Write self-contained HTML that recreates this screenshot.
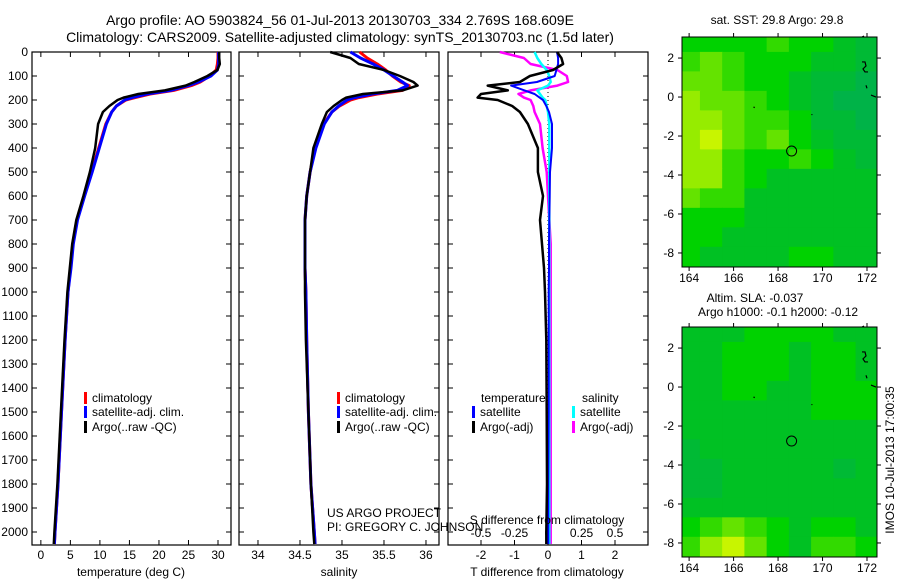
<!DOCTYPE html>
<html><head><meta charset="utf-8"><style>
body{margin:0;background:#fff;}
svg{display:block;font-family:"Liberation Sans",sans-serif;}
</style></head><body>
<svg id="fig" width="900" height="580" viewBox="0 0 900 580">
<text x="340" y="25" font-size="14" text-anchor="middle">Argo profile: AO 5903824_56 01-Jul-2013 20130703_334 2.769S 168.609E</text>
<text x="340" y="42" font-size="14" text-anchor="middle">Climatology: CARS2009. Satellite-adjusted climatology: synTS_20130703.nc (1.5d later)</text>
<text x="777" y="24" font-size="12" text-anchor="middle">sat. SST: 29.8  Argo: 29.8</text>
<text x="755" y="302" font-size="12" text-anchor="middle">Altim. SLA: -0.037</text>
<text x="778" y="316" font-size="12" text-anchor="middle">Argo h1000: -0.1 h2000: -0.12</text>
<text transform="translate(894,460) rotate(-90)" font-size="12" text-anchor="middle">IMOS 10-Jul-2013 17:00:35</text>
<text x="327" y="517" font-size="12">US ARGO PROJECT</text>
<text x="327" y="531" font-size="12">PI: GREGORY C. JOHNSON</text>
<g id="plots"></g>
</svg>
<script>
// ---- data ----
const depths = [0,25,50,75,100,125,140,160,175,190,200,225,250,300,400,500,600,700,800,900,1000,1200,1500,1800,2000,2050];
const tempClim = [30,30,29.9,29.7,28.6,27,25.5,22.5,18.5,16,14.4,12.8,12,11,9.8,8.6,7.3,6.1,5.4,5,4.6,4.1,3.5,2.9,2.4,2.3];
const tempSat = [30.1,30.1,30.1,29.9,28.8,26.7,25,22,18,15.5,14.2,12.8,12,11.1,9.9,8.7,7.4,6.2,5.5,5.1,4.6,4.1,3.5,2.9,2.4,2.3];
const tempArgo = [30.2,30.2,30.3,29.9,28.2,26,24.5,21,16.5,14,13,11.6,10.5,9.7,9.2,8.3,7.2,6.0,5.3,4.9,4.5,4.0,3.4,2.8,2.3,2.2];
const salClim = [35.21,35.3,35.42,35.52,35.6,35.7,35.8,35.72,35.42,35.2,35.1,34.97,34.88,34.78,34.68,34.62,34.58,34.56,34.56,34.56,34.57,34.58,34.6,34.63,34.67,34.68];
const salSat = [35.1,35.22,35.37,35.5,35.61,35.72,35.78,35.66,35.36,35.15,35.06,34.96,34.88,34.79,34.69,34.62,34.58,34.56,34.56,34.56,34.57,34.58,34.6,34.63,34.67,34.68];
const salArgo = [34.86,35.1,35.2,35.5,35.69,35.85,35.9,35.72,35.25,35.05,35.0,34.9,34.82,34.76,34.66,34.62,34.58,34.56,34.56,34.56,34.56,34.57,34.6,34.63,34.66,34.67];
const tDiffSat = [0.27,0.3,0.3,0.25,0.2,-0.33,-1.1,-0.7,-0.4,-0.25,-0.15,-0.05,0.03,0.12,0.12,0.06,0.05,0.04,0.03,0.03,0.02,0.02,0.02,0.01,0.01,0.01];
const tDiffArgo = [0.27,0.4,0.45,0.15,-0.54,-0.84,-1.8,-1.2,-2.0,-2.1,-1.5,-1.07,-0.84,-0.6,-0.3,-0.3,-0.15,-0.24,-0.18,-0.12,-0.09,-0.05,-0.04,-0.03,-0.05,-0.05];
const sDiffSat = [-0.1,-0.08,-0.05,-0.01,0.01,0.02,0.0,-0.08,-0.06,-0.04,-0.02,-0.01,0,0.01,0.01,0.01,0.01,0.01,0.01,0.01,0.01,0.01,0.01,0.01,0.01,0.01];
const sDiffArgo = [-0.36,-0.18,-0.13,0.07,0.14,0.15,0.07,-0.13,-0.22,-0.18,-0.13,-0.11,-0.1,-0.06,-0.04,-0.01,0.0,0.01,0.02,0.02,0.02,0.02,0.02,0.02,0.02,0.02];
const depthTicks = [0,100,200,300,400,500,600,700,800,900,1000,1100,1200,1300,1400,1500,1600,1700,1800,1900,2000];
const tempTicks = [0,5,10,15,20,25,30];
const salTicks = [34,34.5,35,35.5,36];
const tDiffTicks = [-2,-1,0,1,2];
const sDiffTicks = [-0.5,-0.25,0,0.25,0.5];
const sDiffTickLabels = ["-0.5","-0.25","0","0.25","0.5"];
const lonTicks = [164,166,168,170,172];
const latTicks = [2,0,-2,-4,-6,-8];
const sstGrid = [
[5,5,5,5,6,5,5,4,3,6],[6,7,6,5,5,5,4,4,3,2],[7,7,6,5,5,4,3,3,2,2],[8,7,7,6,5,4,3,2,2,2],
[8,8,7,6,6,5,3,3,2,2],[8,9,7,6,7,5,4,3,3,2],[8,8,6,5,5,6,5,4,3,3],[8,8,6,5,4,4,4,4,4,4],
[7,6,6,4,4,4,4,4,4,4],[5,5,5,4,4,4,4,4,4,4],[5,5,4,4,4,4,4,4,4,4],[5,4,4,4,4,5,5,4,4,4]];
const slaGrid = [
[4,4,4,5,5,5,5,4,4,4],[4,4,5,5,5,4,5,5,4,4],[4,4,5,5,5,4,5,5,4,4],[4,4,5,5,4,4,5,5,5,4],
[4,4,4,4,4,4,5,5,5,4],[4,4,4,4,4,4,4,4,4,4],[3,4,4,4,4,4,4,4,4,4],[3,3,4,4,4,4,4,3,4,4],
[3,3,4,4,4,4,4,4,4,4],[4,4,4,4,4,4,4,4,4,4],[5,6,7,6,5,4,5,5,4,4],[6,8,9,7,5,4,6,6,5,4]];
const floatLon = 168.609, floatLat = -2.769;

// ---- drawing ----
const NS="http://www.w3.org/2000/svg";
const root=document.getElementById('plots');
function mk(tag,attrs,parent){const e=document.createElementNS(NS,tag);for(const k in attrs)e.setAttribute(k,attrs[k]);(parent||root).appendChild(e);return e;}
const top0=52, pxPer100=24.0, bot=545;
const yD=d=>top0+d*pxPer100/100;

function panel(name,x0,x1,xmin,xmax,showDepth){
  const sx=v=>x0+(v-xmin)/(xmax-xmin)*(x1-x0);
  const g=mk('g',{});
  
  
  const r=mk('rect',{x:x0,y:top0,width:x1-x0,height:bot-top0,fill:'none',stroke:'#000','stroke-width':1.2},g);
  
  
  depthTicks.forEach(d=>{
    mk('line',{x1:x0,x2:x0+5,y1:yD(d),y2:yD(d),stroke:'#000'},g);
    mk('line',{x1:x1-5,x2:x1,y1:yD(d),y2:yD(d),stroke:'#000'},g);
    if(showDepth){const t=mk('text',{x:x0-4,y:yD(d)+4,'font-size':12,'text-anchor':'end'},g);t.textContent=d;
      
      }
  });
  return {g,sx};
}
function xTicks(p,ticks,labels,ylab){
  ticks.forEach((v,i)=>{
    const x=p.sx(v);
    mk('line',{x1:x,x2:x,y1:bot,y2:bot-5,stroke:'#000'},p.g);
    mk('line',{x1:x,x2:x,y1:top0,y2:top0+5,stroke:'#000'},p.g);
    const t=mk('text',{x:x,y:ylab,'font-size':12,'text-anchor':'middle'},p.g);t.textContent=labels?labels[i]:v;
    
    
  });
}
function line(p,vals,color,w,name,scale){
  const pts=vals.map((v,i)=>p.sx(v*(scale||1)).toFixed(1)+','+yD(depths[i]).toFixed(1)).join(' ');
  const pl=mk('polyline',{points:pts,fill:'none',stroke:color,'stroke-width':w,'stroke-linejoin':'round'},p.g);
  
  
}
function label(x,y,txt,name,anchor){const t=mk('text',{x:x,y:y,'font-size':12,'text-anchor':anchor||'start'});t.textContent=txt;
  
  }
function legend(x,y,color,txt,name){
  const r=mk('rect',{x:x,y:y-10,width:3,height:12,fill:color});
  
  
  label(x+8,y,txt,name);
}
// Temperature
const p1=panel('temperature-panel',32,231,-1.5,32.2,true);
xTicks(p1,tempTicks,null,559);
line(p1,tempClim,'#f00',3,'temperature-climatology-line');
line(p1,tempSat,'#00f',3,'temperature-satellite-line');
line(p1,tempArgo,'#000',2.5,'temperature-argo-line');
label(131,576,'temperature (deg C)','temperature-axis-title','middle');
legend(84,402,'#f00','climatology','legend-climatology');
legend(84,416,'#00f','satellite-adj. clim.','legend-satellite');
legend(84,431,'#000','Argo(..raw -QC)','legend-argo');
// Salinity
const p2=panel('salinity-panel',239,439,33.774,36.155,false);
xTicks(p2,salTicks,null,559);
line(p2,salClim,'#f00',3,'salinity-climatology-line');
line(p2,salSat,'#00f',3,'salinity-satellite-line');
line(p2,salArgo,'#000',2.5,'salinity-argo-line');
label(339,576,'salinity','salinity-axis-title','middle');
legend(337,402,'#f00','climatology','legend-sal-climatology');
legend(337,416,'#00f','satellite-adj. clim.','legend-sal-satellite');
legend(337,431,'#000','Argo(..raw -QC)','legend-sal-argo');
// Difference
const p3=panel('difference-panel',448,648,-2.985,2.985,false);
xTicks(p3,tDiffTicks,null,559);
sDiffTicks.forEach((v,i)=>{const t=mk('text',{x:p3.sx(v*4),y:537,'font-size':12,'text-anchor':'middle'},p3.g);t.textContent=sDiffTickLabels[i];
  
  });
mk('line',{x1:p3.sx(0),x2:p3.sx(0),y1:top0,y2:bot,stroke:'#000','stroke-dasharray':'1,3'},p3.g);
line(p3,sDiffArgo,'#f0f',2.5,'salinity-diff-argo-line',4);
line(p3,sDiffSat,'#0ff',2.5,'salinity-diff-satellite-line',4);
line(p3,tDiffSat,'#00f',2,'temperature-diff-satellite-line');
line(p3,tDiffArgo,'#000',2.5,'temperature-diff-argo-line');
label(547,524,'S difference from climatology','s-diff-axis-title','middle');
label(547,576,'T difference from climatology','t-diff-axis-title','middle');
label(481,402,'temperature','legend-temperature-header');
legend(472,416,'#00f','satellite','legend-t-satellite');
legend(472,431,'#000','Argo(-adj)','legend-t-argo');
label(582,402,'salinity','legend-salinity-header');
legend(572,416,'#0ff','satellite','legend-s-satellite');
legend(572,431,'#f0f','Argo(-adj)','legend-s-argo');

// Maps
function col(v){
  let r,g,b;
  if(v<=4){const t=v/4;r=0;g=165+t*28;b=110-t*75;}
  else if(v<=5){const t=v-4;r=0;g=193+t*17;b=35-t*35;}
  else {const t=(v-5)/4;r=200*t;g=210+t*35;b=0;}
  return `rgb(${r|0},${g|0},${b|0})`;
}
function map(name,grid,x0,x1,yTop,yBot,lonMin,lonMax,latTop,latBot){
  const sx=l=>x0+(l-lonMin)/(lonMax-lonMin)*(x1-x0);
  const sy=l=>yTop+(latTop-l)/(latTop-latBot)*(yBot-yTop);
  const g=mk('g',{});
  
  
  const cid=name+'-clip';
  const cp=mk('clipPath',{id:cid},g);mk('rect',{x:x0,y:yTop,width:x1-x0,height:yBot-yTop},cp);
  const cells=mk('g',{'clip-path':`url(#${cid})`},g);
  grid.forEach((row,i)=>row.forEach((v,j)=>{
    const lo=163.5+j, la=3.3-i;
    const c=mk('rect',{x:sx(lo)-0.3,y:sy(la)-0.3,width:sx(lo+1)-sx(lo)+0.6,height:sy(la-1)-sy(la)+0.6,fill:col(v)},cells);
    
    
  }));
  mk('rect',{x:x0,y:yTop,width:x1-x0,height:yBot-yTop,fill:'none',stroke:'#000'},g);
  lonTicks.forEach(l=>{const x=sx(l);mk('line',{x1:x,x2:x,y1:yTop,y2:yTop-4,stroke:'#000'},g);mk('line',{x1:x,x2:x,y1:yBot,y2:yBot+4,stroke:'#000'},g);
    const t=mk('text',{x:x,y:yBot+15,'font-size':12,'text-anchor':'middle'},g);t.textContent=l;
    
    });
  latTicks.forEach(l=>{const y=sy(l);mk('line',{x1:x0,x2:x0-4,y1:y,y2:y,stroke:'#000'},g);mk('line',{x1:x1,x2:x1+4,y1:y,y2:y,stroke:'#000'},g);
    const t=mk('text',{x:x0-8,y:y+4,'font-size':12,'text-anchor':'end'},g);t.textContent=l;
    
    });
  const c=mk('circle',{cx:sx(floatLon),cy:sy(floatLat),r:5,fill:'none',stroke:'#000'},g);
  
  
  const land=mk('path',{d:`M${x1-15} ${yTop} l2 -1 M${x1-15} ${sy(1.8)} l3 0 l1 4 l-3 3 l2 3 l3 0 M${x1-11} ${sy(0.6)} l1 3 M${x1-6} ${sy(0.1)} l5 2 M${sx(166.9)} ${sy(-0.5)} l1 1 M${sx(169.5)} ${sy(-0.9)} l1 0`,stroke:'#000',fill:'none','stroke-width':1.2},g);
  
  
}
map('sst-map',sstGrid,682,877,37,267,163.68,172.45,3.08,-8.72);
map('sla-map',slaGrid,682,877,327,557,163.68,172.45,3.08,-8.72);
</script>
</body></html>
